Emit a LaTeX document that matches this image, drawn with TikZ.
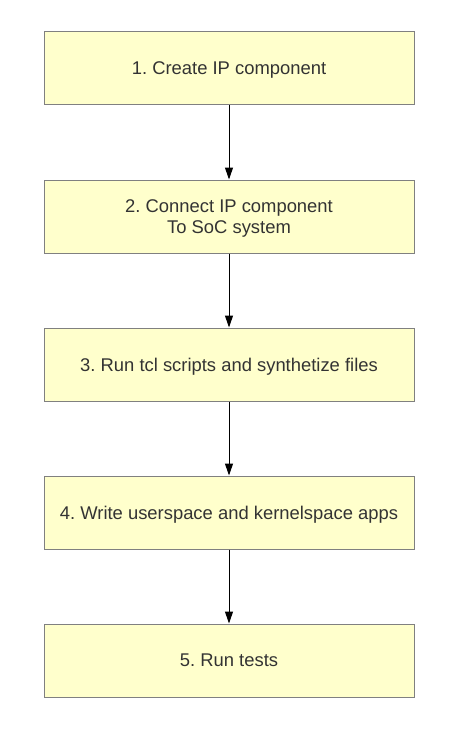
\documentclass[tikz,border=0pt]{standalone}
\usepackage{fontspec}
\setmainfont{Liberation Sans}
\usetikzlibrary{arrows.meta}
\definecolor{boxfill}{HTML}{FFFFCC}
\definecolor{boxline}{HTML}{808080}
\definecolor{txt}{HTML}{333333}
\tikzset{
  stepbox/.style={draw=boxline, fill=boxfill, line width=1pt, minimum width=370pt, minimum height=73pt, inner sep=0pt, align=center, text=txt, text depth=0pt, font=\fontsize{18.4}{21}\selectfont\frenchspacing},
  flow/.style={draw=black, line width=1pt, -{Triangle[length=12pt,width=8pt]}}
}
\begin{document}
\begin{tikzpicture}[x=1pt,y=-1pt]
\useasboundingbox (0,0) rectangle (462,733);
\node[stepbox] (s1) at (229,68.5) {1. Create IP component};
\node[stepbox] (s2) at (229,216.5) {2. Connect IP component\\To SoC system};
\node[stepbox] (s3) at (229,364.5) {3. Run tcl scripts and synthetize files};
\node[stepbox] (s4) at (229,512.5) {4. Write userspace and kernelspace apps};
\node[stepbox] (s5) at (229,660.5) {5. Run tests};
\draw[flow] (s1) -- (s2);
\draw[flow] (s2) -- (s3);
\draw[flow] (s3) -- (s4);
\draw[flow] (s4) -- (s5);
\end{tikzpicture}
\end{document}
